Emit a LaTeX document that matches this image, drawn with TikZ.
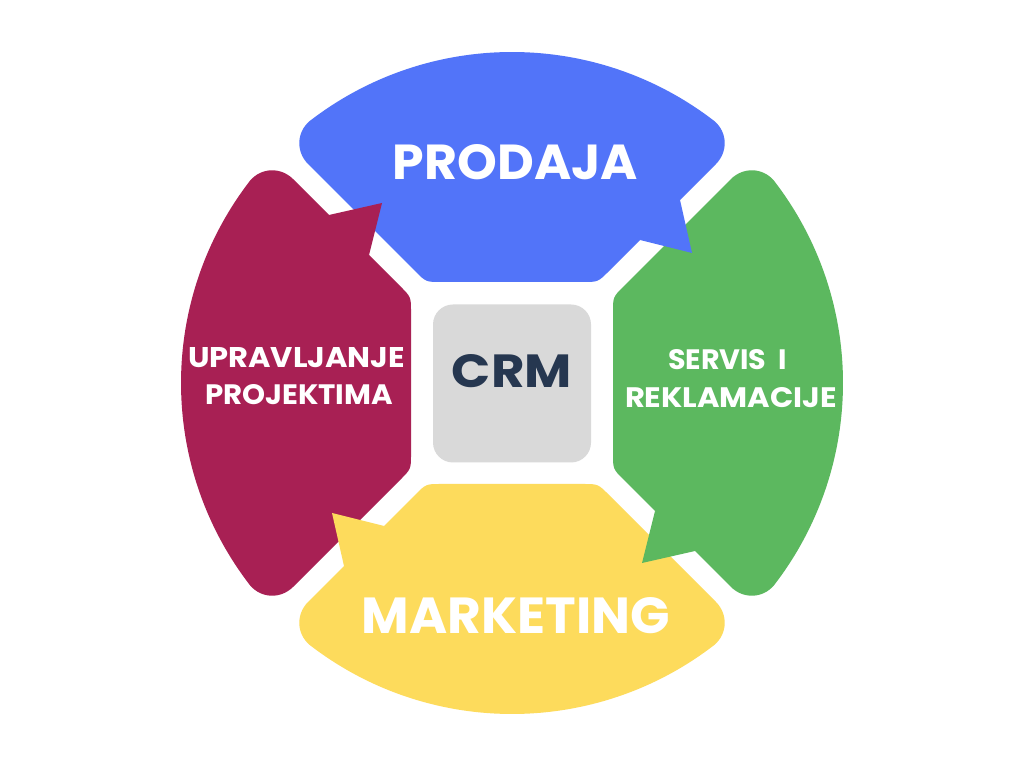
\documentclass[tikz,border=0pt]{standalone}
\usepackage{fontspec}
\setmainfont{Poppins}
\usepackage{graphicx}
\definecolor{cblue}{HTML}{5274F9}
\definecolor{cred}{HTML}{A82054}
\definecolor{cgreen}{HTML}{5CB85F}
\definecolor{cyellow}{HTML}{FDDB5C}
\definecolor{cgray}{HTML}{D9D9D9}
\definecolor{cnavy}{HTML}{263750}
\newcommand\fitto[3]{\resizebox{#1pt}{#2pt}{\bfseries #3}}
\newcommand\bubblebody{(-96.6,111.6) .. controls (-86,101) .. (-71,101) -- (71,101) .. controls (86,101) .. (96.6,111.6) -- (203.8,218.8) .. controls (216.2,231.2) and (215.6,250.6) .. (52.3:331) arc[start angle=52.3,end angle=127.7,radius=331pt] .. controls (-215.6,250.6) and (-216.2,231.2) .. (-203.8,218.8) -- cycle}
\newcommand\bubbletail{(128,143) -- (180,130) -- (168,183) -- (140,175) -- cycle}
\begin{document}
\begin{tikzpicture}[x=1pt,y=1pt,
  lbl/.style={inner sep=0pt, text=white},
  hub/.style={fill=cgray, rounded corners=20pt, minimum size=158pt, inner sep=0pt}]
\useasboundingbox (0,0) rectangle (1024,768);
\fill[white] (0,0) rectangle (1024,768);
% bodies
\begin{scope}[shift={(512,385)}]
  \fill[cblue] \bubblebody;
  \fill[cgreen, rotate=-90] \bubblebody;
  \fill[cyellow, rotate=180] \bubblebody;
  \fill[cred, rotate=90] \bubblebody;
  % tails
  \fill[cblue] \bubbletail;
  \fill[cgreen, rotate=-90] \bubbletail;
  \fill[cyellow, rotate=180] \bubbletail;
  \fill[cred, rotate=90] \bubbletail;
\end{scope}
% center
\node[hub] (crmbox) at (512,384.5) {};
\node[inner sep=0pt, text=cnavy] (crm) at (512,396.5) {\fitto{120}{33}{CRM}};
% labels
\node[lbl] (prodaja) at (515.5,605.5) {\fitto{245}{35}{PRODAJA}};
\node[lbl] (marketing) at (516,152) {\fitto{308}{36}{MARKETING}};
\node[lbl] (upr1) at (296.5,410) {\fitto{217}{20}{UPRAVLJANJE}};
\node[lbl] (upr2) at (299,373) {\fitto{188}{20}{PROJEKTIMA}};
\node[lbl] (srv1) at (727.5,408) {\fitto{119}{20}{SERVIS\ \ I}};
\node[lbl] (srv2) at (731,370) {\fitto{212}{20}{REKLAMACIJE}};
\end{tikzpicture}
\end{document}
